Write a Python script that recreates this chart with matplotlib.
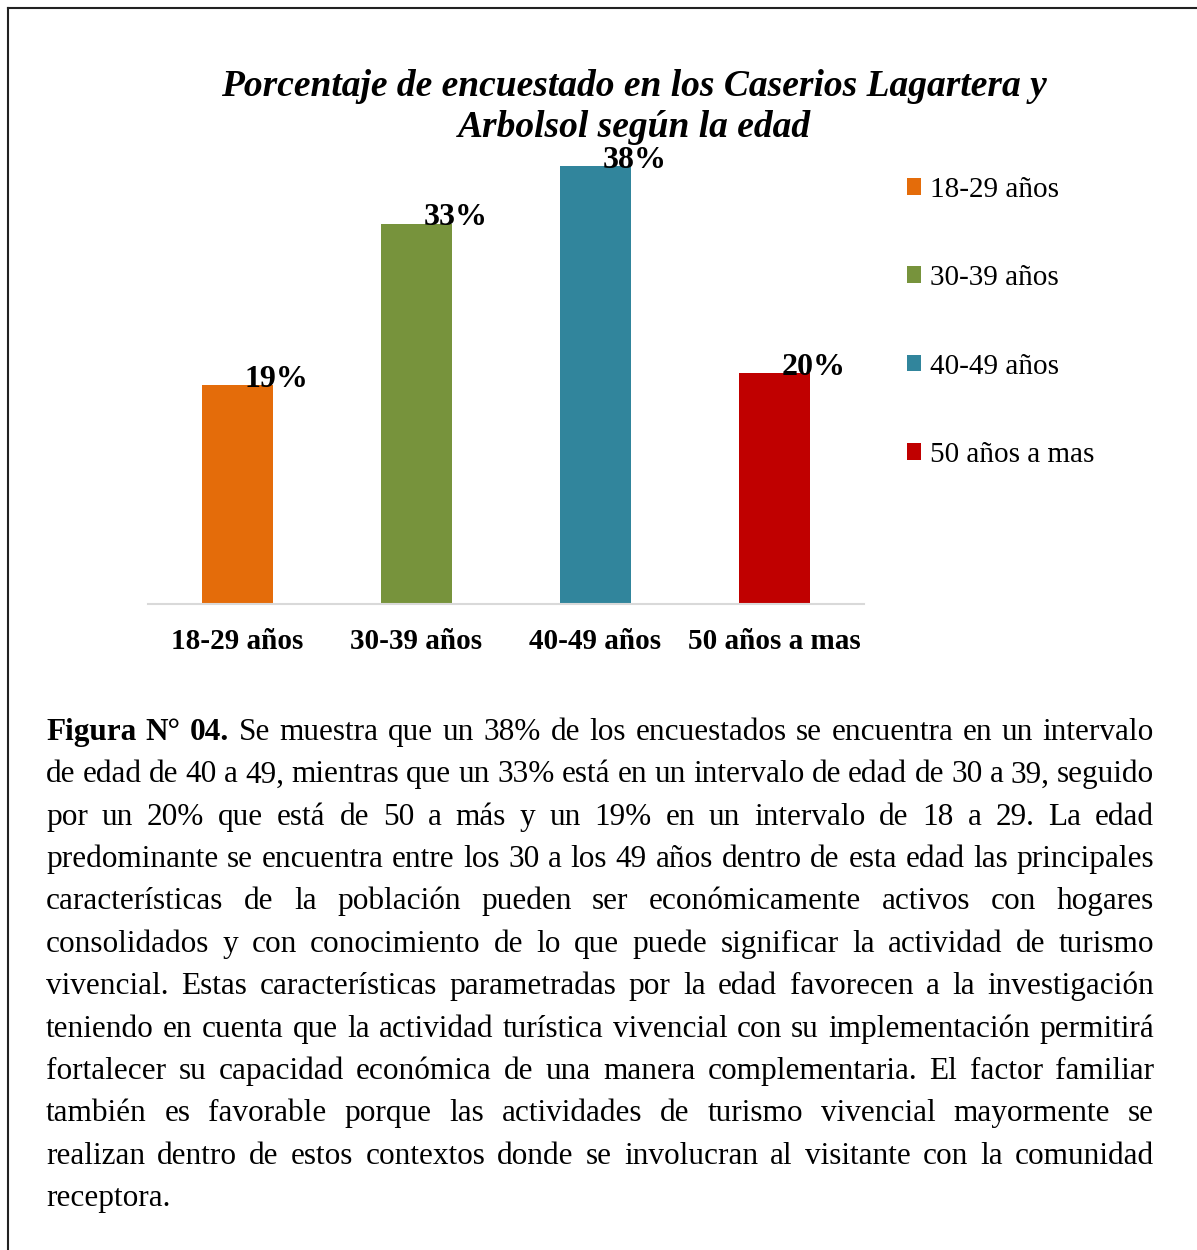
import matplotlib
matplotlib.use("Agg")
import matplotlib.pyplot as plt
from matplotlib.patches import Patch
from matplotlib.lines import Line2D

categories = ["18-29 años", "30-39 años", "40-49 años", "50 años a mas"]
values = [19, 33, 38, 20]
colors = ["#E46C0A", "#77933C", "#31859C", "#C00000"]

title = "Porcentaje de encuestado en los Caserios Lagartera y\nArbolsol según la edad"

caption_lines = [
    "Figura N° 04. Se muestra que un 38% de los encuestados se encuentra en un intervalo",
    "de edad de 40 a 49, mientras que un 33% está en un intervalo de edad de 30 a 39, seguido",
    "por un 20% que está de 50 a más y un 19% en un intervalo de 18 a 29. La edad",
    "predominante se encuentra entre los 30 a los 49 años dentro de esta edad las principales",
    "características de la población pueden ser económicamente activos con hogares",
    "consolidados y con conocimiento de lo que puede significar la actividad de turismo",
    "vivencial. Estas características parametradas por la edad favorecen a la investigación",
    "teniendo en cuenta que la actividad turística vivencial con su implementación permitirá",
    "fortalecer su capacidad económica de una manera complementaria. El factor familiar",
    "también es favorable porque las actividades de turismo vivencial mayormente se",
    "realizan dentro de estos contextos donde se involucran al visitante con la comunidad",
    "receptora.",
]
n_bold = 3  # "Figura N° 04." in bold

W, H = 1197, 1250
plt.rcParams['font.family'] = ['Liberation Serif', 'DejaVu Serif']

fig = plt.figure(figsize=(W / 100, H / 100), dpi=100)
fig.patch.set_facecolor("white")

# page frame (top and left edges visible)
fig.add_artist(Line2D([8 / W, 1], [1 - 8 / H, 1 - 8 / H], color="#222222", lw=1.5))
fig.add_artist(Line2D([8 / W, 8 / W], [0, 1 - 8 / H], color="#222222", lw=1.5))

ax = fig.add_axes([148 / W, 1 - 604 / H, (864 - 148) / W, (604 - 150) / H])
x = range(len(categories))
ax.bar(x, values, width=0.402, color=colors)
ax.set_xlim(-0.5, 3.5)
ax.set_ylim(0, 454 / 11.53)
for s in ["top", "left", "right"]:
    ax.spines[s].set_visible(False)
ax.spines["bottom"].set_color("#d9d9d9")
ax.spines["bottom"].set_linewidth(1.5)
ax.set_yticks([])
ax.set_xticks(list(x))
ax.set_xticklabels(categories, fontsize=21, fontweight="bold")
ax.tick_params(axis="x", length=0, pad=17)

for i, v in enumerate(values):
    ax.text(i + 0.22, v + 0.5, f"{v}%", ha="center", va="center",
            fontsize=23, fontweight="bold")

fig.text(634 / W, 1 - 107 / H, title, ha="center", va="center",
         fontsize=27, fontweight="bold", fontstyle="italic", linespacing=1.2)

handles = [Patch(facecolor=c, edgecolor="none") for c in colors]
fig.legend(handles, categories, loc="upper left",
           bbox_to_anchor=(895 / W, 1 - 165 / H), frameon=False,
           fontsize=21, handlelength=0.5, handleheight=0.5,
           handletextpad=0.3, labelspacing=2.14, borderaxespad=0)

# justified caption
renderer = fig.canvas.get_renderer()
x0, x1 = 46, 1154
base0, dy = 740, 42.36
fs = 22.5


def word_width(w, weight):
    t = fig.text(0, 0, w, fontsize=fs, fontweight=weight)
    bb = t.get_window_extent(renderer)
    t.remove()
    return bb.width


space_w = word_width("a a", "normal") - 2 * word_width("a", "normal")

k = 0
for li, line in enumerate(caption_lines):
    words = line.split(" ")
    weights = []
    for w in words:
        weights.append("bold" if k < n_bold else "normal")
        k += 1
    widths = [word_width(w, wt) for w, wt in zip(words, weights)]
    if li == len(caption_lines) - 1 or len(words) == 1:
        gap = space_w
    else:
        gap = (x1 - x0 - sum(widths)) / (len(words) - 1)
    xp = x0
    yb = 1 - (base0 + li * dy) / H
    for w, wt, wd in zip(words, weights, widths):
        fig.text(xp / W, yb, w, fontsize=fs, fontweight=wt, ha="left", va="baseline")
        xp += wd + gap

fig.savefig("out.png", dpi=100)
